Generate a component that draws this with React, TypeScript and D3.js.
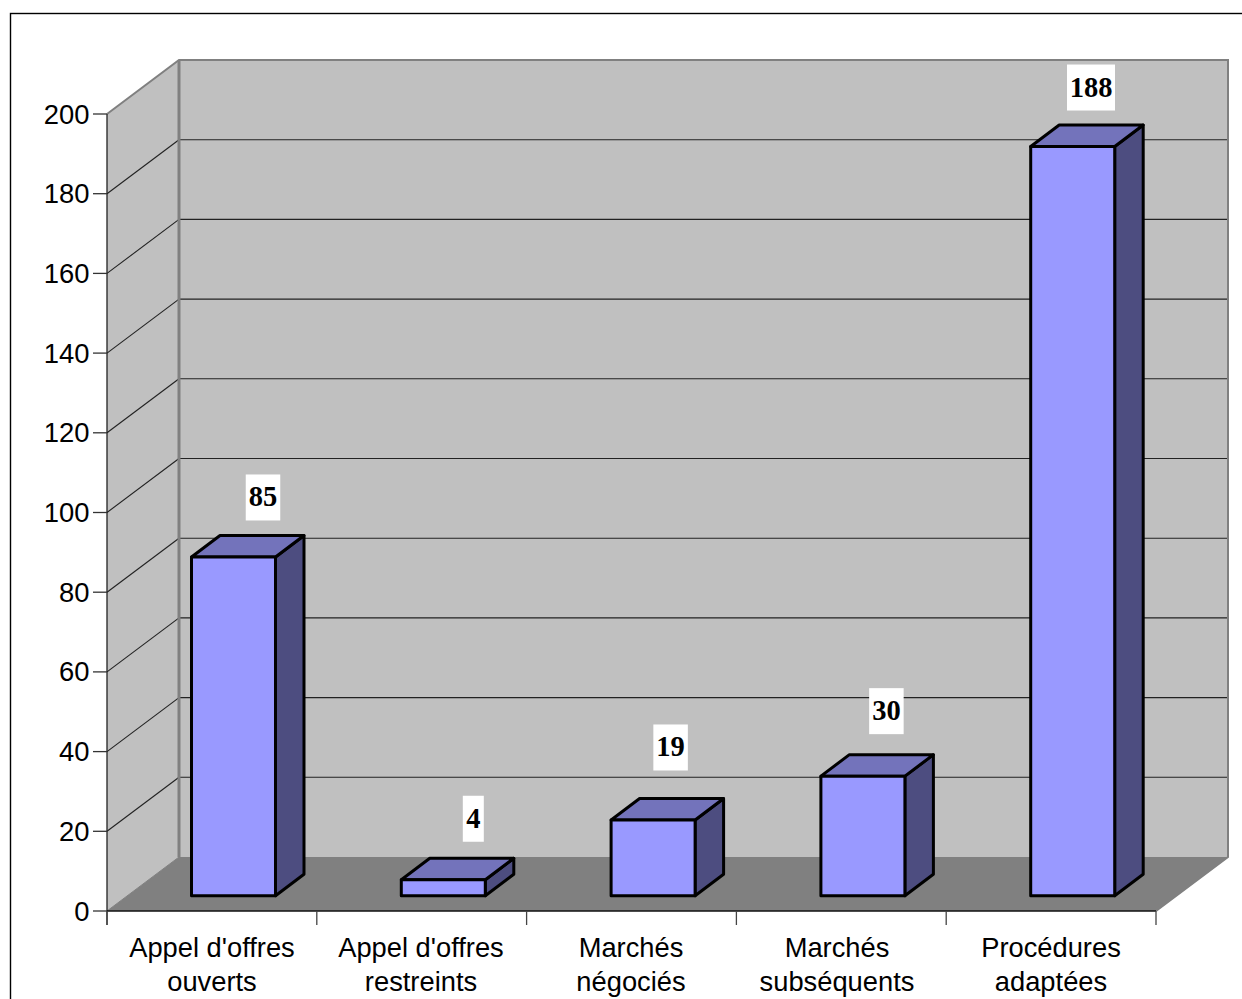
import React from "react";
import * as d3 from "d3";

const categories: string[][] = [
  ["Appel d'offres", "ouverts"],
  ["Appel d'offres", "restreints"],
  ["Marchés", "négociés"],
  ["Marchés", "subséquents"],
  ["Procédures", "adaptées"],
];
const values = [85, 4, 19, 30, 188];
const yTicks = d3.range(0, 201, 20);

// label box placement relative to each bar (the source chart nudges these individually)
const labelDx = [71.5, 72, 59.5, 65.5, 60.3];
const labelDy = [-59.5, -61, -72.5, -65, -59];
const categoryCenters = [212, 421, 631, 837, 1051];

const WALL = "#C0C0C0";
const FLOOR = "#808080";
const BAR_FRONT = "#9999FF";
const BAR_TOP = "#7373BB";
const BAR_SIDE = "#4D4D80";

const y = d3.scaleLinear().domain([0, 200]).range([911, 114]);
const x = d3.scaleBand<number>().domain(d3.range(5)).range([107, 1156]);
const DX = 72;
const DY = -54;
const left = 107;
const right = 1156;
const barW = 84;
const barDX = 28.5;
const barDY = -21.5;
const barBaseOffset = 15.3;
const barInset = 84.5;

const pts = (p: number[][]) => p.map((q) => q.join(",")).join(" ");

export default function App() {
  const sans = "'Liberation Sans', Arial, sans-serif";
  const serif = "'Liberation Serif', 'Times New Roman', serif";
  return (
    <svg
      width={1242}
      height={999}
      style={{ position: "absolute", left: 0, top: 0, display: "block", background: "#fff" }}
    >
      <rect x={10.5} y={13.5} width={1260} height={1020} fill="#fff" stroke="#000" strokeWidth={1.4} />

      {/* side wall */}
      <polygon
        points={pts([[left, y(0)], [left + DX, y(0) + DY], [left + DX, y(200) + DY], [left, y(200)]])}
        fill={WALL}
      />
      {/* back wall */}
      <rect x={left + DX} y={y(200) + DY} width={right - left} height={y(0) - y(200)} fill={WALL} />
      {/* floor */}
      <polygon
        points={pts([[left, y(0)], [right, y(0)], [right + DX, y(0) + DY], [left + DX, y(0) + DY]])}
        fill={FLOOR}
      />

      {/* gridlines */}
      {yTicks.slice(1, -1).map((t) => (
        <g key={t} fill="none" stroke="#222" strokeWidth={1.1}>
          <line x1={left} y1={y(t)} x2={left + DX} y2={y(t) + DY} />
          <line x1={left + DX} y1={y(t) + DY} x2={right + DX} y2={y(t) + DY} />
        </g>
      ))}

      {/* wall borders */}
      <polyline
        points={pts([
          [left, y(200)],
          [left + DX, y(200) + DY],
          [right + DX, y(200) + DY],
          [right + DX, y(0) + DY],
          [right, y(0)],
        ])}
        fill="none"
        stroke={FLOOR}
        strokeWidth={2}
      />
      <line x1={left + DX} y1={y(200) + DY} x2={left + DX} y2={y(0) + DY} stroke={FLOOR} strokeWidth={3} />
      <line x1={left} y1={y(0)} x2={left + DX} y2={y(0) + DY} stroke={FLOOR} strokeWidth={1} />

      {/* axes */}
      <line x1={left} y1={y(200)} x2={left} y2={y(0) + 14} stroke="#222" strokeWidth={1.3} />
      <line x1={left} y1={y(0)} x2={right} y2={y(0)} stroke="#111" strokeWidth={1.3} />
      {yTicks.map((t) => (
        <g key={t}>
          <line x1={left - 14} y1={y(t)} x2={left} y2={y(t)} stroke="#333" strokeWidth={1.3} />
          <text x={89.5} y={y(t) + 9.5} textAnchor="end" fontFamily={sans} fontSize={27.4} fill="#000">
            {t}
          </text>
        </g>
      ))}
      {d3.range(6).map((i) => {
        const px = i < 5 ? (x(i) as number) : right;
        return <line key={i} x1={px} y1={y(0)} x2={px} y2={y(0) + 14} stroke="#444" strokeWidth={1.3} />;
      })}

      {/* bars */}
      {values.map((v, i) => {
        const bx = (x(i) as number) + barInset;
        const base = y(0) - barBaseOffset;
        const top = y(v) - barBaseOffset;
        return (
          <g key={i} stroke="#000" strokeWidth={3} strokeLinejoin="round">
            <polygon
              points={pts([[bx + barW, base], [bx + barW + barDX, base + barDY], [bx + barW + barDX, top + barDY], [bx + barW, top]])}
              fill={BAR_SIDE}
            />
            <polygon
              points={pts([[bx, top], [bx + barDX, top + barDY], [bx + barW + barDX, top + barDY], [bx + barW, top]])}
              fill={BAR_TOP}
            />
            <rect x={bx} y={top} width={barW} height={base - top} fill={BAR_FRONT} />
          </g>
        );
      })}

      {/* value labels */}
      {values.map((v, i) => {
        const bx = (x(i) as number) + barInset;
        const top = y(v) - barBaseOffset;
        const cx = bx + labelDx[i];
        const cy = top + labelDy[i];
        const w = String(v).length * 13.5 + 7.5;
        return (
          <g key={i}>
            <rect x={cx - w / 2} y={cy - 23} width={w} height={46} fill="#fff" />
            <text x={cx} y={cy + 9} textAnchor="middle" fontFamily={serif} fontWeight="bold" fontSize={28.5} fill="#000">
              {v}
            </text>
          </g>
        );
      })}

      {/* category labels */}
      {categories.map((lines, i) =>
        lines.map((s, j) => (
          <text
            key={j}
            x={categoryCenters[i]}
            y={957 + j * 33.5}
            textAnchor="middle"
            fontFamily={sans}
            fontSize={27.3}
            fill="#000"
          >
            {s}
          </text>
        ))
      )}
    </svg>
  );
}
